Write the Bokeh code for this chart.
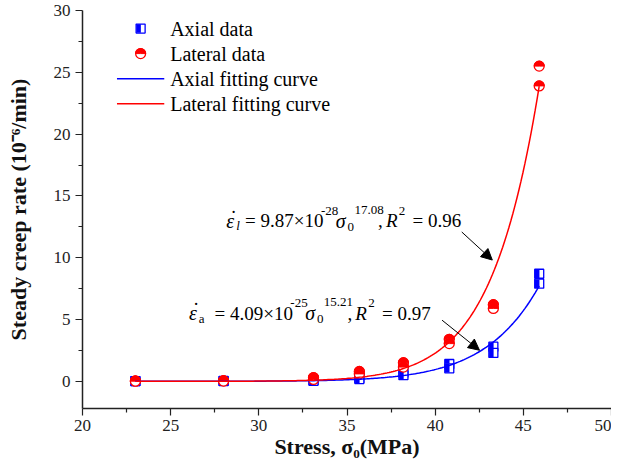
import numpy as np
from bokeh.plotting import figure
from bokeh.models import Label, Arrow, NormalHead, Range1d, FixedTicker
from bokeh.embed import file_html
from bokeh.resources import INLINE

# ---------------- data ----------------
stress = [23.0, 28.0, 33.1, 35.7, 38.2, 40.8, 43.3, 45.9]
axial_1 = [0.02, 0.03, 0.08, 0.25, 0.70, 1.40, 2.80, 8.70]
axial_2 = [0.01, 0.02, 0.04, 0.18, 0.50, 1.05, 2.30, 7.90]
lateral_1 = [0.03, 0.05, 0.30, 0.80, 1.50, 3.40, 6.20, 25.50]
lateral_2 = [0.01, 0.02, 0.15, 0.60, 1.15, 3.05, 5.90, 23.90]

# fitted power laws shown in the chart: rate = A * sigma ** n
axial_A, axial_n = 4.09e-25, 15.21
lateral_A, lateral_n = 9.87e-28, 17.08

x_ticks = [20, 25, 30, 35, 40, 45, 50]
y_ticks = [0, 5, 10, 15, 20, 25, 30]

legend_labels = ["Axial data", "Lateral data", "Axial fitting curve", "Lateral fitting curve"]

FONT = "Liberation Serif"
TICK_FONT = "Liberation Serif"
BLUE = "#0000ff"
RED = "#ff0000"

p = figure(frame_width=529, frame_height=398, output_backend="svg", toolbar_location=None,
           x_range=Range1d(20, 50), y_range=Range1d(-2.2, 30),
           min_border_left=82, min_border_right=0, min_border_top=10, min_border_bottom=0)
p.outline_line_color = None
p.xgrid.visible = False
p.ygrid.visible = False
p.background_fill_color = "white"

p.xaxis.ticker = FixedTicker(ticks=x_ticks, minor_ticks=[t + 2.5 for t in x_ticks[:-1]])
p.yaxis.ticker = FixedTicker(ticks=y_ticks, minor_ticks=[t + 2.5 for t in y_ticks[:-1]])
for ax in (p.xaxis, p.yaxis):
    ax.axis_line_width = 1.5
    ax.axis_line_color = "#222222"
    ax.major_tick_line_width = 1.2
    ax.minor_tick_line_width = 1.2
    ax.major_tick_line_color = "#222222"
    ax.minor_tick_line_color = "#222222"
    ax.major_tick_in = 0
    ax.major_tick_out = 7
    ax.minor_tick_in = 0
    ax.minor_tick_out = 4
    ax.major_label_text_font = TICK_FONT
    ax.major_label_text_font_size = "17px"
    ax.major_label_text_color = "#222222"
    ax.axis_label_text_font = FONT
    ax.axis_label_text_font_size = "22px"
    ax.axis_label_text_font_style = "bold"
    ax.axis_label_text_color = "#111111"
p.xaxis.major_label_standoff = 4
p.xaxis.axis_label_standoff = 0
p.yaxis.major_label_standoff = 5
p.yaxis.axis_label_standoff = 20
p.xaxis.axis_label = "Stress, σ₀(MPa)"
p.yaxis.axis_label = "Steady creep rate (10⁻⁶/min)"

# reference-pixel helpers (annotation layout only)
def X(px):
    return 20 + (px - 83) / 17.9

def Y(py):
    return (382 - py) / 12.333

off = 2.0 / 17.6

def axial_markers(xs, ys):
    p.scatter(xs, ys, marker="square", size=9, fill_color="white", line_color=BLUE, line_width=1.3)
    p.rect(np.array(xs) - off, ys, width=4.5, height=8.5, width_units="screen", height_units="screen",
           fill_color=BLUE, line_color=None)

def lateral_markers(xs, ys):
    p.scatter(xs, ys, marker="circle", size=10, fill_color="white", line_color=RED, line_width=1.3)
    p.wedge(xs, ys, radius=5, radius_units="screen", start_angle=0, end_angle=np.pi,
            fill_color=RED, line_color=RED, line_width=1)

axial_markers(stress, axial_1)
axial_markers(stress, axial_2)
lateral_markers(stress, lateral_1)
lateral_markers(stress, lateral_2)

# fitting curves from the stated power laws
xs_fit = np.linspace(stress[0], stress[-1], 200)
p.line(xs_fit, axial_A * xs_fit ** axial_n, line_color=BLUE, line_width=1.5)
p.line(xs_fit, lateral_A * xs_fit ** lateral_n, line_color=RED, line_width=1.5)

# ---------------- manual legend ----------------
leg_rows = [30, 55, 80, 105]
axial_markers([X(142)], [Y(leg_rows[0])])
lateral_markers([X(142)], [Y(leg_rows[1])])
p.line([X(118), X(166)], [Y(leg_rows[2])] * 2, line_color=BLUE, line_width=1.5)
p.line([X(118), X(166)], [Y(leg_rows[3])] * 2, line_color=RED, line_width=1.5)
for lab, ry in zip(legend_labels, leg_rows):
    p.add_layout(Label(x=X(172), y=Y(ry), text=lab, text_font=FONT, text_font_size="20px",
                       text_baseline="middle", text_color="black"))

# ---------------- equation annotations ----------------
def put(text, px, py, size, italic=False):
    p.add_layout(Label(x=X(px), y=Y(py), text=text, text_font=FONT, text_font_size=f"{size}px",
                       text_font_style="italic" if italic else "normal",
                       text_baseline="alphabetic", text_color="black"))

def equation(x0, x_eq, base, sub, coef, power, expo, r2):
    put("ε", x0, base, 20, True)
    put("˙", x0 + 4, base - 3, 20)
    put(sub, x0 + 10, base + 5, 13, sub == "l")
    put("= " + coef + "×10", x_eq + 2, base, 19)
    put(power, x_eq + 79, base - 10, 13)
    put("σ", x_eq + 94, base, 20, True)
    put("0", x_eq + 106, base + 6, 13)
    put(expo, x_eq + 113, base - 11, 13)
    put(",", x_eq + 137, base, 19)
    put("R", x_eq + 145, base, 19, True)
    put("2", x_eq + 158, base - 10, 13)
    put("= " + r2, x_eq + 172, base, 19)

equation(229, 246, 222, "l", "9.87", "-28", "17.08", "0.96")
equation(191, 215, 314, "a", "4.09", "-25", "15.21", "0.97")

p.add_layout(Arrow(x_start=X(468), y_start=Y(233), x_end=X(499), y_end=Y(261),
                   line_color="black", line_width=1,
                   end=NormalHead(size=11, fill_color="black", line_color="black")))
p.add_layout(Arrow(x_start=X(448), y_start=Y(321), x_end=X(486), y_end=Y(351),
                   line_color="black", line_width=1,
                   end=NormalHead(size=11, fill_color="black", line_color="black")))

open("out.html", "w").write(file_html(p, INLINE))
